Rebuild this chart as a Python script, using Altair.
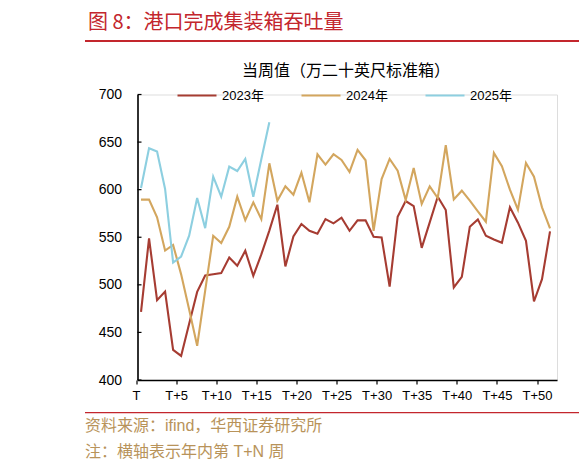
import altair as alt
import pandas as pd

# ---- data ----
years = ["2023年", "2024年", "2025年"]
colors = ["#A63C32", "#D3A65E", "#8DCFE0"]

v2023 = [471.6, 548.8, 483.9, 493.0, 431.6, 425.3, 459.0, 492.6, 509.8, 511.2,
         512.3, 528.8, 520.0, 535.8, 509.5, 532.0, 557.0, 584.2, 519.3, 550.9,
         563.9, 556.8, 553.7, 569.1, 564.6, 570.5, 556.8, 567.7, 567.7, 550.5,
         549.8, 498.2, 571.6, 588.1, 582.8, 538.8, 565.6, 592.6, 578.6, 497.2,
         508.4, 561.1, 568.8, 551.6, 547.7, 544.2, 581.4, 565.3, 546.3, 482.5,
         506.0, 556.1]
v2024 = [589.5, 589.5, 571.0, 536.0, 542.0, 511.0, 474.0, 436.0, 494.0, 551.6,
         544.0, 561.0, 592.6, 568.0, 586.6, 569.0, 627.7, 588.4, 603.5, 594.7,
         617.9, 586.7, 637.2, 626.3, 637.2, 631.2, 618.6, 641.8, 630.9, 556.8,
         611.2, 632.3, 620.0, 589.1, 622.8, 584.9, 603.5, 591.2, 646.7, 589.8,
         598.9, 588.4, 577.2, 566.3, 638.6, 624.6, 600.0, 578.9, 628.1, 613.7,
         581.4, 559.3]
v2025 = [601.8, 643.5, 640.0, 600.7, 523.5, 529.8, 551.6, 591.2, 559.6, 613.7,
         592.6, 624.2, 619.6, 632.3, 592.6, 632.0, 670.9]

x_ticks = [0, 5, 10, 15, 20, 25, 30, 35, 40, 45, 50]
y_ticks = [400, 450, 500, 550, 600, 650, 700]

title_text = "图 8：港口完成集装箱吞吐量"
subtitle_text = "当周值（万二十英尺标准箱）"
source_text = "资料来源：ifind，华西证券研究所"
note_text = "注：横轴表示年内第 T+N 周"

# ---- build table ----
rows = []
for yr, vals in zip(years, [v2023, v2024, v2025]):
    for i, v in enumerate(vals):
        rows.append({"week": i, "value": v, "year": yr})
df = pd.DataFrame(rows)

FONT = "Liberation Sans, Noto Sans CJK SC, sans-serif"
CJK = "Noto Sans CJK SC, sans-serif"
W, H = 419.5, 285.5

xscale = alt.Scale(domain=[-0.44, 51.87], nice=False, zero=False)
yscale = alt.Scale(domain=[400, 700], nice=False, zero=False)

leg = alt.Legend(orient="none", legendX=38.5, legendY=-20,
                 direction="horizontal", title=None,
                 symbolType="stroke", symbolSize=1521,
                 labelFontSize=13, labelFont=FONT, labelColor="#000",
                 labelOffset=4, columnPadding=33, padding=0)

lines = alt.Chart(df).mark_line(strokeJoin="miter").encode(
    x=alt.X("week:Q", scale=xscale,
            axis=alt.Axis(values=x_ticks, title=None, grid=False,
                          labelExpr="datum.value == 0 ? 'T' : 'T+' + datum.value",
                          labelFontSize=13, labelColor="#000", labelFont=FONT,
                          tickSize=4, tickColor="#000", tickWidth=1.2, tickOffset=-5,
                          domainColor="#000", domainWidth=1.6, labelPadding=5)),
    y=alt.Y("value:Q", scale=yscale,
            axis=alt.Axis(values=y_ticks, title=None, grid=False, ticks=False,
                          labelFontSize=14, labelColor="#000", labelFont=FONT,
                          domainColor="#000", domainWidth=1.6, labelPadding=16)),
    color=alt.Color("year:N", scale=alt.Scale(domain=years, range=colors), legend=leg),
    strokeWidth=alt.StrokeWidth("year:N",
                                scale=alt.Scale(domain=years, range=[2.1, 2.1, 3.5]),
                                legend=leg),
    order=alt.Order("week:Q"),
)

yt = alt.Chart(pd.DataFrame({"v": y_ticks})).mark_rule(color="#000", strokeWidth=1.2).encode(
    y=alt.Y("v:Q", scale=yscale), x=alt.value(0), x2=alt.value(4)
)

def label(text, x, y, size, color, font=CJK, align="left", weight="normal"):
    return alt.Chart(pd.DataFrame({"t": [text]})).mark_text(
        align=align, baseline="middle", fontSize=size, color=color, font=font,
        fontWeight=weight
    ).encode(text="t:N", x=alt.value(x), y=alt.value(y))

RED = "#C3262D"
GOLD = "#B8935A"

title = label(title_text, -49.5, -72, 20, RED)
subtitle = label(subtitle_text, 208.5, -23.5, 16, "#000", align="center")
source = label(source_text, -52.5, 331.5, 16, GOLD, font=FONT)
note = label(note_text, -52.5, 357.2, 16, GOLD, font=FONT)

top_line = alt.Chart(pd.DataFrame({"a": [0]})).mark_rule(color=RED, strokeWidth=2).encode(
    x=alt.value(-52.5), x2=alt.value(449.5), y=alt.value(-53.5)
)
bottom_line = alt.Chart(pd.DataFrame({"a": [0]})).mark_rule(color=RED, strokeWidth=1.3).encode(
    x=alt.value(-52.5), x2=alt.value(449.5), y=alt.value(318.2)
)

chart = alt.layer(lines, yt, title, subtitle, source, note, top_line, bottom_line).properties(
    width=W, height=H,
    autosize=alt.AutoSizeParams(type="none"),
    padding={"left": 129.5, "top": 86.5, "right": 22, "bottom": 84},
).configure_view(stroke=None).configure(font=FONT)

chart.save("out.html", embed_options={"renderer": "svg", "actions": False})
